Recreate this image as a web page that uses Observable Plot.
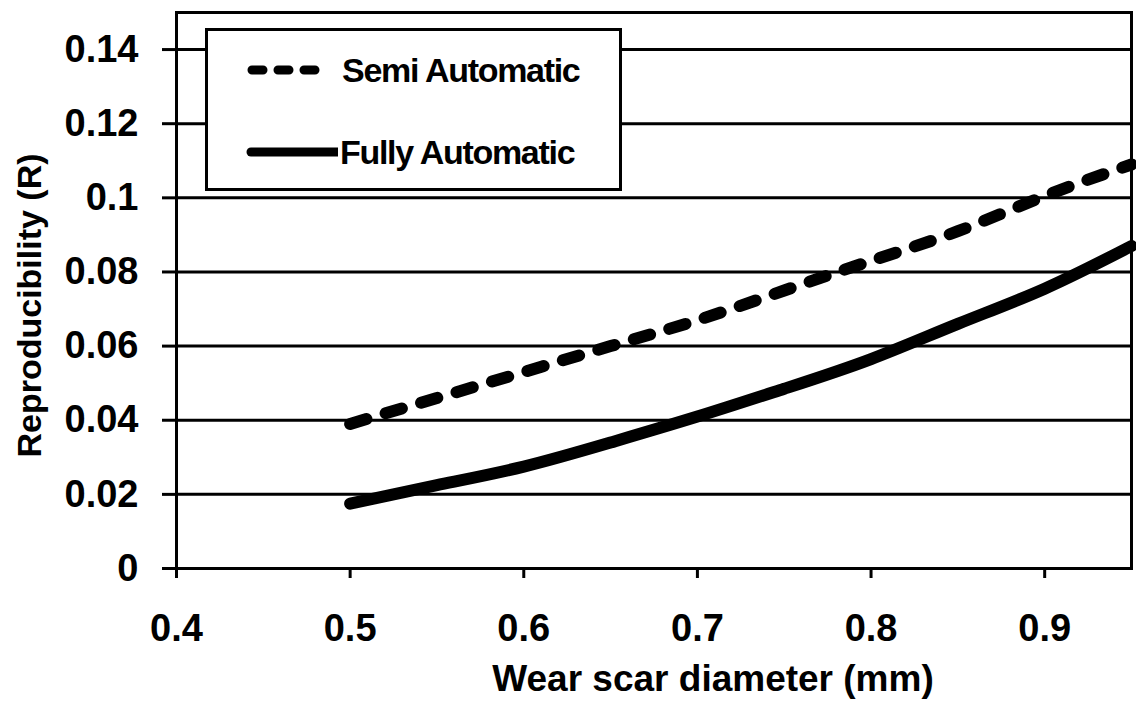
<!DOCTYPE html>
<html>
<head>
<meta charset="utf-8">
<script src="https://cdn.jsdelivr.net/npm/d3@7"></script>
<script src="https://cdn.jsdelivr.net/npm/@observablehq/plot@0.6"></script>
<style>
  html, body { margin: 0; padding: 0; background: #fff; }
  #wrap { position: relative; width: 1136px; height: 701px; font-family: "Liberation Sans", Arial, sans-serif; font-weight: bold; }
  #legend { position: absolute; left: 205px; top: 28px; width: 411px; height: 157px; border: 3px solid #000; background: #fff; }
  .row { position: absolute; left: 0; height: 40px; display: flex; align-items: center; }
  .row span { font-size: 34px; letter-spacing: -1.3px; color: #000; }
</style>
</head>
<body>
<div id="wrap"></div>
<script>
const diameters = [0.5, 0.55, 0.6, 0.65, 0.7, 0.75, 0.8, 0.85, 0.9, 0.95];
const semiAutomatic = [0.039, 0.046, 0.053, 0.060, 0.067, 0.075, 0.083, 0.091, 0.1005, 0.109];
const fullyAutomatic = [0.0175, 0.0225, 0.0275, 0.034, 0.041, 0.0485, 0.0565, 0.066, 0.0755, 0.087];
const xTicks = [0.4, 0.5, 0.6, 0.7, 0.8, 0.9];
const yTicks = [0, 0.02, 0.04, 0.06, 0.08, 0.1, 0.12, 0.14];
const seriesNames = ["Semi Automatic", "Fully Automatic"];
const xTitle = "Wear scar diameter (mm)";
const yTitle = "Reproducibility (R)";

const semiData = diameters.map((d, i) => ({x: d, y: semiAutomatic[i]}));
const fullyData = diameters.map((d, i) => ({x: d, y: fullyAutomatic[i]}));

const chart = Plot.plot({
  width: 1136,
  height: 701,
  marginLeft: 176,
  marginRight: 5,
  marginTop: 12,
  marginBottom: 133,
  style: {fontFamily: "'Liberation Sans', Arial, sans-serif", fontWeight: "bold", color: "#000", background: "#fff"},
  x: {domain: [0.4, 0.95]},
  y: {domain: [0, 0.15]},
  marks: [
    Plot.gridY(yTicks, {stroke: "#000", strokeOpacity: 1, strokeWidth: 3}),
    Plot.frame({stroke: "#000", strokeWidth: 3}),
    Plot.axisY(yTicks, {tickSize: 14, tickPadding: 24, fontSize: 38, letterSpacing: -1.5, strokeWidth: 3, label: null, tickFormat: d => String(d)}),
    Plot.axisX(xTicks, {tickSize: 10, tickPadding: 36, fontSize: 38, letterSpacing: -1.5, strokeWidth: 3, label: null, tickFormat: d => String(d)}),
    Plot.line(fullyData, {x: "x", y: "y", stroke: "#000", strokeWidth: 12, strokeLinecap: "round", curve: "natural"}),
    Plot.line(semiData, {x: "x", y: "y", stroke: "#000", strokeWidth: 12, strokeLinecap: "round", strokeDasharray: "17 20", curve: "natural"}),
    Plot.text([xTitle], {frameAnchor: "bottom", dx: 59, dy: 122, fontSize: 37, fontWeight: "bold", fill: "#000", letterSpacing: -0.5}),
    Plot.text([yTitle], {frameAnchor: "left", textAnchor: "middle", rotate: -90, dx: -146, dy: 15, fontSize: 34, fontWeight: "bold", fill: "#000", letterSpacing: -1})
  ]
});

const wrap = document.getElementById("wrap");
wrap.appendChild(chart);

const legend = document.createElement("div");
legend.id = "legend";
legend.innerHTML = `
  <div class="row" style="top:19px;left:38px">
    <svg width="80" height="20"><line x1="6" y1="10" x2="74" y2="10" stroke="#000" stroke-width="9" stroke-linecap="round" stroke-dasharray="11 15"/></svg>
    <span style="margin-left:16px">${seriesNames[0]}</span>
  </div>
  <div class="row" style="top:101px;left:38px">
    <svg width="92" height="20"><line x1="5" y1="10" x2="92" y2="10" stroke="#000" stroke-width="9" stroke-linecap="round"/></svg>
    <span style="margin-left:2px">${seriesNames[1]}</span>
  </div>`;
wrap.appendChild(legend);
</script>
</body>
</html>
